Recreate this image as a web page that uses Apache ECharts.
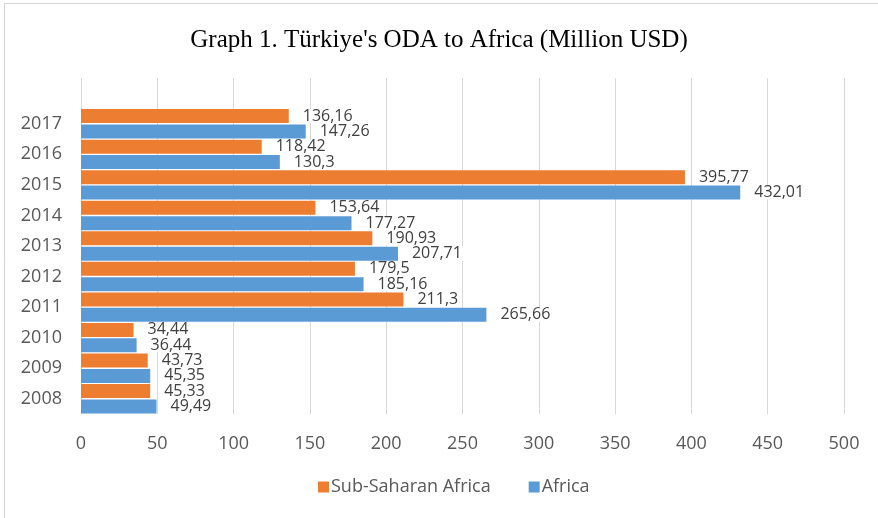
<!DOCTYPE html>
<html>
<head>
<meta charset="utf-8">
<script src="https://cdn.jsdelivr.net/npm/echarts@6/dist/echarts.min.js"></script>
<style>
html,body{margin:0;padding:0;background:#fff;}
#chart{width:878px;height:518px;}
</style>
</head>
<body>
<div id="chart"></div>
<script>
// Data
var years = ['2008','2009','2010','2011','2012','2013','2014','2015','2016','2017'];
var subSaharan = [45.33, 43.73, 34.44, 211.3, 179.5, 190.93, 153.64, 395.77, 118.42, 136.16];
var africa = [49.49, 45.35, 36.44, 265.66, 185.16, 207.71, 177.27, 432.01, 130.3, 147.26];
var xTicks = [0, 50, 100, 150, 200, 250, 300, 350, 400, 450, 500];
var seriesNames = ['Sub-Saharan Africa', 'Africa'];

var chart = echarts.init(document.getElementById('chart'));
function fmt(p){ return String(p.value).replace('.', ','); }
var labelStyle = {
  show: true, position: 'right', distance: 12, formatter: fmt,
  color: '#404040', fontSize: 16, fontFamily: 'Open Sans', lineHeight: 14,
  backgroundColor: '#fff', padding: [0, 2]
};
chart.setOption({
  animation: false,
  title: {
    text: "Graph 1. Türkiye's ODA to Africa (Million USD)",
    left: 'center', top: 23,
    textStyle: { fontFamily: 'Liberation Serif', fontSize: 25, fontWeight: 'normal', color: '#000' }
  },
  graphic: [{
    type: 'rect', shape: { x: 4.5, y: 3.5, width: 1000, height: 1000 },
    style: { fill: 'none', stroke: '#d4d4d4', lineWidth: 1 }, silent: true
  }],
  legend: {
    data: seriesNames, bottom: 17, left: 313,
    itemWidth: 11, itemHeight: 11, itemGap: 38,
    icon: 'rect',
    textStyle: { fontFamily: 'Open Sans', fontSize: 18, color: '#595959', padding: [0, 0, 0, -3] }
  },
  grid: { left: 81, right: 34, top: 78, bottom: 104 },
  xAxis: {
    type: 'value', min: xTicks[0], max: xTicks[xTicks.length - 1], interval: 50,
    axisLine: { show: false }, axisTick: { show: false },
    splitLine: { show: true, lineStyle: { color: '#d9d9d9', width: 1 } },
    axisLabel: { fontFamily: 'Open Sans', fontSize: 18, color: '#595959', margin: 21 }
  },
  yAxis: {
    type: 'category', data: years.concat(['']),
    axisLine: { show: false }, axisTick: { show: false },
    axisLabel: { fontFamily: 'Open Sans', fontSize: 18, color: '#595959', margin: 19 }
  },
  series: [
    { name: seriesNames[0], type: 'bar', data: subSaharan, barWidth: 14, barGap: '10%',
      itemStyle: { color: '#ED7D31' }, label: labelStyle },
    { name: seriesNames[1], type: 'bar', data: africa, barWidth: 14, barGap: '10%',
      itemStyle: { color: '#5B9BD5' }, label: labelStyle }
  ]
});
</script>
</body>
</html>
